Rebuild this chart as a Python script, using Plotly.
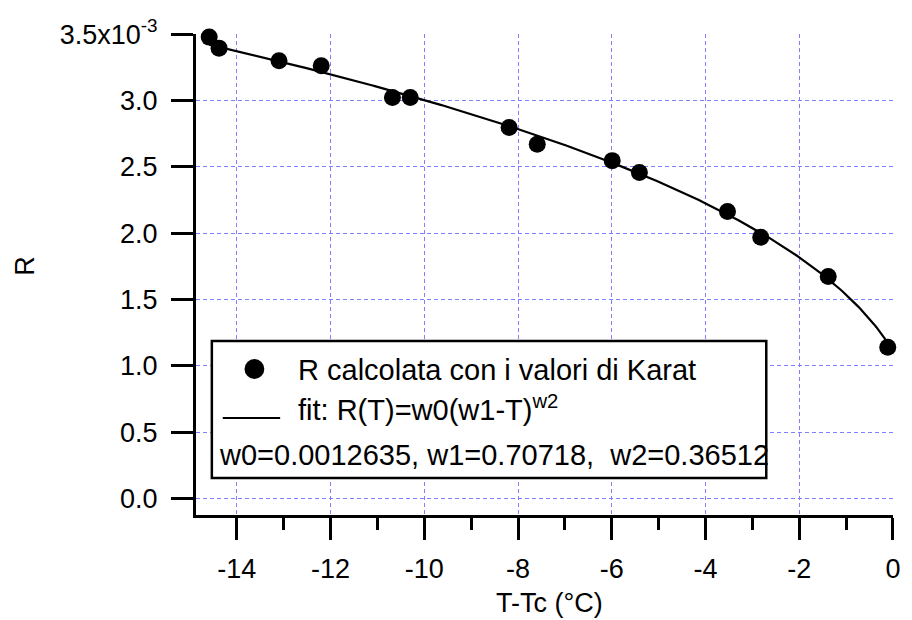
import numpy as np
import plotly.graph_objects as go

# Measured ratio R versus reduced temperature T - Tc
T_data = [-14.59, -14.38, -13.10, -12.20, -10.68, -10.30, -8.19, -7.59,
          -5.99, -5.41, -3.53, -2.82, -1.38, -0.11]
R_data = [3.477e-3, 3.394e-3, 3.299e-3, 3.261e-3, 3.022e-3, 3.022e-3, 2.796e-3,
          2.670e-3, 2.546e-3, 2.456e-3, 2.162e-3, 1.969e-3, 1.672e-3, 1.140e-3]

# Fit parameters for R(T) = w0 (w1 - T)^w2
w0, w1, w2 = 0.0012635, 0.70718, 0.36512

# Axis ticks
x_ticks = [-14, -12, -10, -8, -6, -4, -2, 0]
x_ticktext = ["-14", "-12", "-10", "-8", "-6", "-4", "-2", "0"]
x_minor = [-13, -11, -9, -7, -5, -3, -1]
y_ticks = [0.0, 0.5e-3, 1.0e-3, 1.5e-3, 2.0e-3, 2.5e-3, 3.0e-3, 3.5e-3]
y_ticktext = ["0.0", "0.5", "1.0", "1.5", "2.0", "2.5", "3.0", "3.5x10<sup>-3</sup>"]

legend_points = "R calcolata con i valori di Karat"
legend_fit = "fit: R(T)=w0(w1-T)<sup>w2</sup>"
legend_params = "w0=0.0012635, w1=0.70718, \u00a0w2=0.36512"

FONT = "Liberation Sans, Arial, Helvetica, sans-serif"
W, H = 912, 620
ML, MR, MT, MB = 196, 12, 34, 105


def px(x):
    return (x - ML) / (W - ML - MR)


def py(y):
    return (H - MB - y) / (H - MT - MB)


T_fit = np.linspace(min(T_data), max(T_data), 300)
R_fit = w0 * (w1 - T_fit) ** w2

fig = go.Figure()
fig.add_trace(go.Scatter(x=T_fit, y=R_fit, mode="lines",
                         line=dict(color="black", width=2.2),
                         showlegend=False, cliponaxis=False))
fig.add_trace(go.Scatter(x=T_data, y=R_data, mode="markers",
                         marker=dict(color="black", size=17, line=dict(width=0)),
                         showlegend=False, cliponaxis=False))

grid = dict(showgrid=True, gridcolor="#7f7fff", gridwidth=1, griddash="4px,3px")

fig.update_xaxes(range=[-14.872, 0.002], tickvals=x_ticks, ticktext=x_ticktext,
                 ticks="outside", ticklen=22, tickwidth=3, tickcolor="black",
                 showline=True, linecolor="black", linewidth=3, zeroline=False,
                 ticklabelstandoff=6,
                 minor=dict(tickvals=x_minor, ticks="outside", ticklen=12,
                            tickwidth=3, tickcolor="black", showgrid=False),
                 tickfont=dict(family=FONT, size=27, color="black"), **grid)
fig.update_yaxes(range=[-0.125e-3, 3.5005e-3], tickvals=y_ticks, ticktext=y_ticktext,
                 ticks="outside", ticklen=22, tickwidth=3, tickcolor="black",
                 showline=True, linecolor="black", linewidth=3, zeroline=False,
                 ticklabelstandoff=8,
                 tickfont=dict(family=FONT, size=27, color="black"), **grid)

shapes = [
    # legend frame
    dict(type="rect", xref="paper", yref="paper",
         x0=px(212), x1=px(772), y0=py(478), y1=py(341),
         line=dict(color="black", width=2.5), fillcolor="white", layer="above"),
    # legend marker symbol
    dict(type="circle", xref="paper", yref="paper",
         x0=px(245), x1=px(265), y0=py(379), y1=py(359),
         line=dict(width=0), fillcolor="black", layer="above"),
    # legend line symbol
    dict(type="line", xref="paper", yref="paper",
         x0=px(223), x1=px(281), y0=py(418), y1=py(418),
         line=dict(color="black", width=2), layer="above"),
]

lfont = dict(family=FONT, size=29, color="black")
annotations = [
    dict(text=legend_points, x=px(297), y=py(370), xref="paper", yref="paper",
         xanchor="left", yanchor="middle", showarrow=False, font=lfont),
    dict(text=legend_fit, x=px(297), y=py(408), xref="paper", yref="paper",
         xanchor="left", yanchor="middle", showarrow=False, font=lfont),
    dict(text=legend_params, x=px(217), y=py(455), xref="paper", yref="paper",
         xanchor="left", yanchor="middle", showarrow=False, font=lfont),
    # axis titles
    dict(text="T-Tc (°C)", x=px(553), y=py(603), xref="paper", yref="paper",
         xanchor="center", yanchor="middle", showarrow=False,
         font=dict(family=FONT, size=27, color="black")),
    dict(text="R", x=px(23), y=py(266), xref="paper", yref="paper",
         xanchor="center", yanchor="middle", textangle=-90, showarrow=False,
         font=dict(family=FONT, size=27, color="black")),
]

fig.update_layout(width=W, height=H, margin=dict(l=ML, r=MR, t=MT, b=MB),
                  paper_bgcolor="white", plot_bgcolor="white",
                  shapes=shapes, annotations=annotations, showlegend=False)

fig.write_html("out.html")
